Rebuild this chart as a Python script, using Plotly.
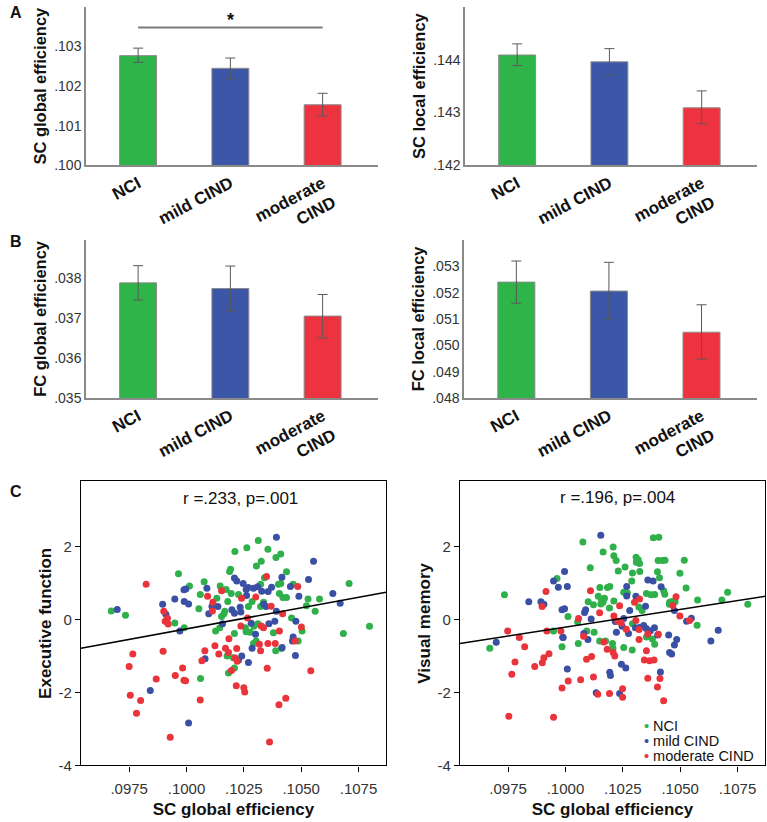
import plotly.graph_objects as go

# groups and colours
groups = ["NCI", "mild CIND", "moderate<br>CIND"]
bar_colors = ["#2fb44a", "#3c56a8", "#ee3340"]
dot_colors = ["#2fb04a", "#3a50a4", "#e8343a"]
legend_names = ["NCI", "mild CIND", "moderate CIND"]

# bar panels: mean, lower and upper end of error bar
sc_glob_mean = [.10277, .10245, .10153]
sc_glob_lo = [.10260, .10218, .10125]
sc_glob_hi = [.10296, .10271, .10182]
sc_glob_ticks = [.100, .101, .102, .103]
sc_glob_ticktext = [".100", ".101", ".102", ".103"]

sc_loc_mean = [.14409, .14396, .14309]
sc_loc_lo = [.14389, .14371, .14279]
sc_loc_hi = [.14430, .14421, .14341]
sc_loc_ticks = [.142, .143, .144]
sc_loc_ticktext = [".142", ".143", ".144"]

fc_glob_mean = [.03788, .03774, .03705]
fc_glob_lo = [.03745, .03717, .03650]
fc_glob_hi = [.03831, .03830, .03759]
fc_glob_ticks = [.035, .036, .037, .038]
fc_glob_ticktext = [".035", ".036", ".037", ".038"]

fc_loc_mean = [.05240, .05206, .05050]
fc_loc_lo = [.05160, .05100, .04948]
fc_loc_hi = [.05320, .05315, .05154]
fc_loc_ticks = [.048, .049, .050, .051, .052, .053]
fc_loc_ticktext = [".048", ".049", ".050", ".051", ".052", ".053"]

# scatter panels (SC global efficiency, score)
ef_nci = [(.09672, .23), (.09734, .11), (.09965, 1.25), (.09949, -.10), (.0999, -.23), (.10313, 2.16),
          (.10211, 1.86), (.10263, 1.96), (.10355, 1.92), (.10411, 1.79), (.1039, 1.69), (.10305, 1.46),
          (.10326, 1.59), (.10192, 1.37), (.10188, 1.31), (.1034, 1.14), (.10401, .96), (.10411, .98),
          (.10077, 1.03), (.10013, .91), (.10147, .91), (.10173, .82), (.10195, .71), (.10227, .68),
          (.10323, .96), (.10405, .71), (.1042, .60), (.1006, .68), (.10132, .58), (.10054, .29),
          (.1018, .49), (.10286, .49), (.10163, .15), (.10153, .08), (.10167, .22), (.1027, .35),
          (.10336, .47), (.10323, .35), (.10257, -.23), (.10209, -.39), (.10127, -.32), (.10145, -.23),
          (.1026, -.34), (.10278, -.35), (.10294, -.19), (.10311, -.12), (.10379, -.37), (.10292, -.66),
          (.10304, -.59), (.10389, -.86), (.10414, -.80), (.10177, -1.00), (.10204, -1.05), (.10209, -1.33),
          (.10183, -1.47), (.10061, -1.62), (.10436, 1.30), (.10465, .96), (.10709, .98), (.10436, .60),
          (.1053, .56), (.1058, .56), (.10523, .37), (.10561, .22), (.10458, .04), (.10504, -.32),
          (.10798, -.19), (.10684, -.39), (.10487, -.59)]
ef_mild = [(.09698, .27), (.09896, .41), (.0991, .14), (.09971, -.32), (.09989, .81), (.09949, .56),
           (.0999, .49), (.09997, .83), (.10009, .42), (.09842, -1.95), (.10009, -2.84), (.10392, 2.25),
           (.10209, 1.13), (.10219, 1.05), (.10416, 1.15), (.10089, .85), (.10247, .98), (.1026, .82),
           (.10269, .87), (.10292, .85), (.1031, .89), (.10328, .77), (.10356, .76), (.10371, .88),
           (.10111, .35), (.10137, .35), (.10097, .15), (.10262, .65), (.10198, .26), (.10234, .33),
           (.10237, .20), (.10209, .17), (.10337, .41), (.10347, .35), (.10392, .22), (.10385, -.05),
           (.10359, -.12), (.10282, -.11), (.10301, -.41), (.10286, -.79), (.10417, -.77), (.10241, -1.00),
           (.10227, -1.11), (.10081, -1.08), (.1027, -1.18), (.10554, 1.59), (.10532, 1.09), (.10453, .90),
           (.1049, .63), (.10638, .71), (.1067, .44), (.10477, -.05), (.10465, -.48), (.10462, -.59),
           (.10475, -.99), (.10157, -.12)]
ef_mod = [(.09824, .96), (.09901, .22), (.09917, .03), (.09907, -.05), (.0992, -.13), (.09766, -.95),
          (.09898, -.87), (.0975, -1.29), (.09983, -1.33), (.09951, -1.54), (.09989, -1.67), (.09868, -1.63),
          (.09755, -2.08), (.098, -2.22), (.09782, -2.57), (.09929, -3.23), (.10349, 1.17), (.10153, .78),
          (.10092, .63), (.10115, .47), (.10113, .23), (.1024, .58), (.10302, .61), (.10369, .36),
          (.10419, .15), (.10326, -.18), (.10336, -.23), (.10266, .04), (.10237, -.18), (.10405, -.32),
          (.10185, -.53), (.10318, -.68), (.10355, -.66), (.10387, -.66), (.10323, -.86), (.10124, -.72),
          (.1017, -.79), (.10219, -.80), (.1008, -.86), (.10141, -.95), (.10183, -.91), (.10212, -1.06),
          (.10067, -1.13), (.10221, -1.15), (.10196, -1.40), (.10352, -1.34), (.09996, -1.68), (.10217, -1.82),
          (.1025, -1.87), (.10254, -1.99), (.1006, -2.21), (.10433, -2.16), (.10403, -2.34), (.10362, -3.36),
          (.10485, .90), (.10501, -.21), (.10474, -.59), (.10542, -1.41)]

vm_nci = [(.09734, .67), (.09963, 1.12), (.0967, -.79), (.09948, -.32), (.09985, -.75), (.10076, 2.12),
          (.10164, 1.84), (.10208, 1.98), (.10211, 1.74), (.10221, 1.61), (.10308, 1.70), (.10317, 1.63),
          (.10323, 1.53), (.10309, 1.56), (.10383, 2.23), (.10407, 2.25), (.10404, 1.61), (.10423, 1.61),
          (.10108, 1.41), (.1023, 1.32), (.1026, 1.43), (.10292, 1.27), (.10324, 1.31), (.10401, 1.30),
          (.1041, 1.14), (.10289, 1.05), (.1015, .87), (.10183, .87), (.10193, .90), (.10254, .74),
          (.1027, .72), (.10143, .63), (.10157, .53), (.1017, .58), (.10164, .47), (.10353, .71),
          (.10373, .67), (.10389, .68), (.10428, .78), (.10099, .48), (.10011, .08), (.10053, -.07),
          (.10122, .40), (.10154, .42), (.10192, .31), (.10211, .50), (.1032, .34), (.10334, .24),
          (.10292, -.12), (.10379, -.54), (.10389, -.68), (.10353, -.48), (.10093, -.32), (.10125, -.35),
          (.10056, -.66), (.10149, -.59), (.10175, -.59), (.10205, -.66), (.10207, -.79), (.10254, -.77),
          (.10291, -.84), (.10434, 1.62), (.10518, 1.62), (.10499, 1.26), (.10526, .86), (.10433, .69),
          (.10576, .53), (.10707, .74), (.10682, .53), (.10795, .41), (.10454, .47), (.10465, .49),
          (.10478, .48), (.10453, .41), (.10574, -.16)]
vm_mild = [(.09698, -.63), (.0984, .48), (.09893, .48), (.09906, .41), (.09948, 1.05), (.09969, .88),
           (.09985, .26), (.09988, -.49), (.09996, 1.31), (.10008, .90), (.09996, .29), (.10154, 2.30),
           (.10267, .90), (.10359, 1.08), (.10382, 1.05), (.10417, .89), (.10083, .19), (.10088, .26),
           (.10112, .01), (.1028, .24), (.10267, .64), (.10307, .63), (.10349, .36), (.10217, -.06),
           (.10254, .02), (.10247, -.19), (.10275, -.39), (.10305, -.23), (.10323, -.22), (.10341, -.17),
           (.10352, -.25), (.1037, -.31), (.10388, -.23), (.10402, -.43), (.10222, -.35), (.1008, -.39),
           (.10098, -.55), (.0999, -.50), (.10244, -1.23), (.10263, -1.33), (.10008, -1.36), (.10193, -1.45),
           (.10196, -1.54), (.10414, -1.44), (.10134, -2.01), (.10236, -2.03), (.10475, .24), (.10528, -.05),
           (.10549, .03), (.10666, -.30), (.10634, -.59), (.1045, -.43), (.10485, -.55), (.10475, -.70),
           (.10454, -.91), (.10463, -.95)]
vm_mod = [(.09915, .76), (.09898, .35), (.09748, -.32), (.09799, -.50), (.09822, -.75), (.09919, -.32),
          (.0998, -.32), (.0978, -1.17), (.09766, -1.50), (.09866, -1.29), (.09899, -1.19), (.09906, -1.05),
          (.09928, -.94), (.09753, -2.65), (.09948, -2.68), (.09985, -1.88), (.10109, .78), (.10057, .02),
          (.10149, .18), (.10301, .47), (.10323, .56), (.10236, .37), (.10211, .09), (.10228, -.05),
          (.10243, -.10), (.10265, -.27), (.10307, -.03), (.10321, -.28), (.10359, -.40), (.10405, -.41),
          (.10321, -.55), (.10079, -.46), (.10167, -.62), (.10182, -.82), (.10208, -.91), (.10215, -1.00),
          (.10092, -1.09), (.10114, -1.02), (.10353, -.86), (.10344, -1.11), (.10367, -1.13), (.10386, -1.11),
          (.10359, -1.61), (.10412, -1.62), (.10401, -1.85), (.10122, -1.58), (.10066, -1.65), (.10012, -1.69),
          (.10141, -2.05), (.10192, -2.03), (.10249, -1.90), (.10249, -2.13), (.10428, -2.23), (.10482, .62),
          (.10468, .38), (.10499, .09), (.10541, -.03)]

# regression lines (end points)
fit_x = [.0954, .1087]
ef_fit_y = [-.79, .74]
vm_fit_y = [-.66, .63]

sc_xticks = [.0975, .1000, .1025, .1050, .1075]
sc_xticktext = [".0975", ".1000", ".1025", ".1050", ".1075"]
sc_yticks = [-4, -2, 0, 2]
sc_yticktext = ["-4", "-2", "0", "2"]

FONT = "Arial, Liberation Sans, sans-serif"
fig = go.Figure()

# ---- bar panels ----
bar_panels = [
    ("x", "y", sc_glob_mean, sc_glob_lo, sc_glob_hi, [.100, .1040], sc_glob_ticks, sc_glob_ticktext, "SC global efficiency"),
    ("x2", "y2", sc_loc_mean, sc_loc_lo, sc_loc_hi, [.142, .1450], sc_loc_ticks, sc_loc_ticktext, "SC local efficiency"),
    ("x3", "y3", fc_glob_mean, fc_glob_lo, fc_glob_hi, [.035, .03896], fc_glob_ticks, fc_glob_ticktext, "FC global efficiency"),
    ("x4", "y4", fc_loc_mean, fc_loc_lo, fc_loc_hi, [.048, .05401], fc_loc_ticks, fc_loc_ticktext, "FC local efficiency"),
]
bar_dom_x = [[0.1121, 0.4928], [0.6063, 0.9870], [0.1121, 0.4928], [0.6050, 0.9870]]
bar_dom_y = [[0.7968, 0.9915], [0.7968, 0.9915], [0.5109, 0.7056], [0.5109, 0.7056]]

layout_axes = {}
for i, (xa, ya, mean, lo, hi, yr, tv, tt, title) in enumerate(bar_panels):
    fig.add_trace(go.Bar(
        x=[0, 1, 2], y=mean, xaxis=xa, yaxis=ya, width=0.4,
        marker=dict(color=bar_colors, line=dict(color="#8a8a8a", width=1)),
        error_y=dict(type="data", symmetric=False,
                     array=[h - m for h, m in zip(hi, mean)],
                     arrayminus=[m - l for m, l in zip(mean, lo)],
                     color="#5a5a5a", thickness=1, width=5),
        showlegend=False,
    ))
    n = "" if i == 0 else str(i + 1)
    layout_axes["xaxis" + n] = dict(
        domain=bar_dom_x[i], anchor=ya, range=[-0.565, 2.6],
        tickvals=[0, 1, 2], ticktext=groups, tickangle=-28,
        tickfont=dict(family=FONT, size=17, color="#111", weight="bold"),
        showline=True, linecolor="#8a8a8a", linewidth=1.5, ticks="", showgrid=False, zeroline=False,
    )
    layout_axes["yaxis" + n] = dict(
        domain=bar_dom_y[i], anchor=xa, range=yr, tickvals=tv, ticktext=tt,
        tickfont=dict(family=FONT, size=14, color="#333"),
        title=dict(text=title, font=dict(family=FONT, size=16.5, color="#111", weight="bold"), standoff=3),
        showline=True, linecolor="#8a8a8a", linewidth=1.5, ticks="", showgrid=False, zeroline=False,
    )

# ---- scatter panels ----
sc_panels = [
    ("x5", "y5", [ef_nci, ef_mild, ef_mod], ef_fit_y, "Executive function"),
    ("x6", "y6", [vm_nci, vm_mild, vm_mod], vm_fit_y, "Visual memory"),
]
sc_dom_x = [[0.1056, 0.5033], [0.5997, 0.9974]]
sc_dom_y = [0.0596, 0.4088]
for j, (xa, ya, sets, fit_y, title) in enumerate(sc_panels):
    for k, pts in enumerate(sets):
        fig.add_trace(go.Scatter(
            x=[p[0] for p in pts], y=[p[1] for p in pts], mode="markers",
            xaxis=xa, yaxis=ya, name=legend_names[k], showlegend=False,
            marker=dict(color=dot_colors[k], size=7),
        ))
    fig.add_trace(go.Scatter(x=fit_x, y=fit_y, mode="lines", xaxis=xa, yaxis=ya,
                             line=dict(color="black", width=1.5), showlegend=False))
    n = str(j + 5)
    layout_axes["xaxis" + n] = dict(
        domain=sc_dom_x[j], anchor=ya, range=[.0954, .1087],
        tickvals=sc_xticks, ticktext=sc_xticktext, tickfont=dict(family=FONT, size=15, color="#333"),
        ticklabelstandoff=4,
        title=dict(text="SC global efficiency", font=dict(family=FONT, size=17, color="#111", weight="bold"), standoff=7),
        showline=True, mirror=True, linecolor="black", linewidth=1.2,
        ticks="outside", ticklen=5, tickcolor="black", showgrid=False, zeroline=False,
    )
    layout_axes["yaxis" + n] = dict(
        domain=sc_dom_y, anchor=xa, range=[-4, 3.78],
        tickvals=sc_yticks, ticktext=sc_yticktext, tickfont=dict(family=FONT, size=15, color="#333"),
        title=dict(text=title, font=dict(family=FONT, size=17, color="#111", weight="bold"), standoff=2),
        showline=True, mirror=True, linecolor="black", linewidth=1.2,
        ticks="outside", ticklen=5, tickcolor="black", showgrid=False, zeroline=False,
    )

ann = []
# panel letters
for letter, ypx in [("A", 13), ("B", 244), ("C", 496)]:
    ann.append(dict(text="<b>%s</b>" % letter, x=8 / 767, y=1 - ypx / 822, xref="paper", yref="paper",
                    showarrow=False, xanchor="left", yanchor="middle",
                    font=dict(family=FONT, size=16, color="#111")))
# correlation labels
for txt, xpx, ypx in [("r =.233, p=.001", 240, 503), ("r =.196, p=.004", 617, 502)]:
    ann.append(dict(text=txt, x=xpx / 767, y=1 - ypx / 822, xref="paper", yref="paper",
                    showarrow=False, xanchor="center", yanchor="middle",
                    font=dict(family=FONT, size=17, color="#111")))
# legend of the scatter panels
for k, (name, ypx) in enumerate(zip(legend_names, [733, 748, 763])):
    ann.append(dict(text="<span style='color:%s'>•</span> %s" % (dot_colors[k], name),
                    x=642 / 767, y=1 - ypx / 822, xref="paper", yref="paper",
                    showarrow=False, xanchor="left", yanchor="middle",
                    font=dict(family=FONT, size=14.5, color="#111")))
# significance star
ann.append(dict(text="<b>*</b>", x=1, y=.10368, xref="x", yref="y", showarrow=False,
                font=dict(family=FONT, size=18, color="#111")))

fig.update_layout(
    width=767, height=822, margin=dict(l=0, r=0, t=0, b=0),
    paper_bgcolor="white", plot_bgcolor="white",
    font=dict(family=FONT, color="#111"),
    showlegend=False,
    annotations=ann,
    shapes=[dict(type="line", xref="x", yref="y", x0=0, x1=2, y0=.10348, y1=.10348,
                 line=dict(color="#7a7a7a", width=2))],
    **layout_axes,
)

# the page's default body margin would push the figure 8px right and down
fig.write_html("out.html", config={"displayModeBar": False},
               post_script="document.body.style.margin='0px';")
